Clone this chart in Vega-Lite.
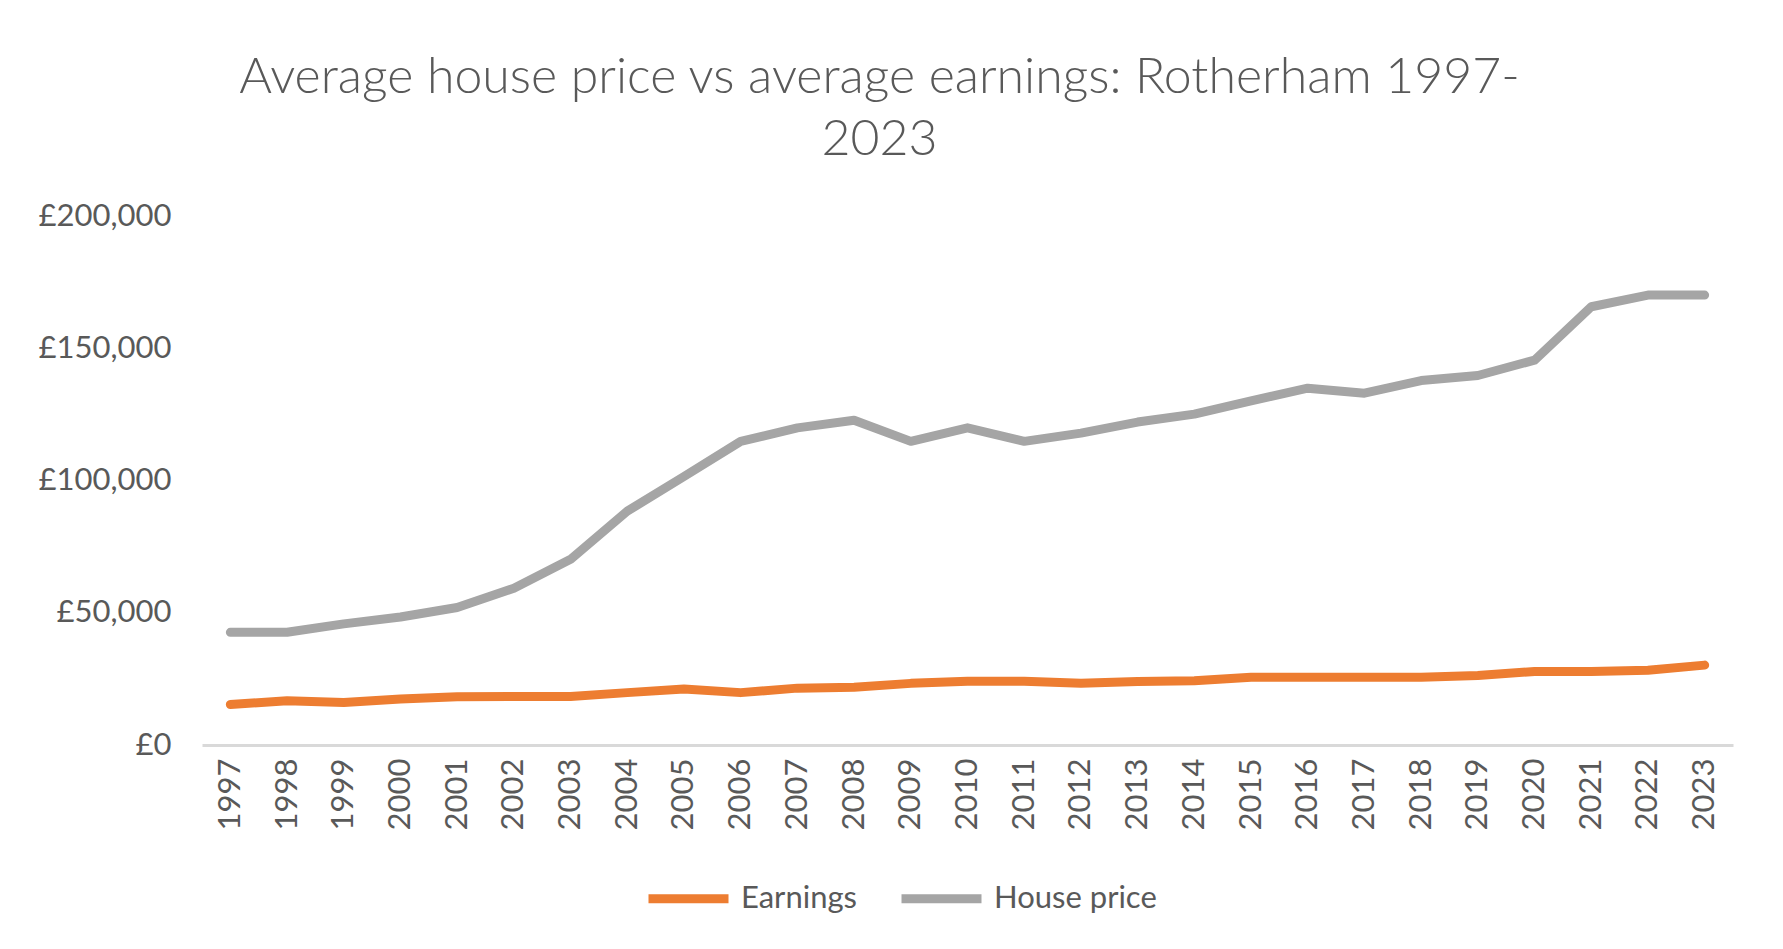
{
  "$schema": "https://vega.github.io/schema/vega-lite/v6.json",
  "width": 1531,
  "height": 529,
  "autosize": {"type": "none"},
  "padding": {"left": 202, "top": 216, "right": 50, "bottom": 204},
  "background": "white",
  "title": {
    "text": ["Average house price vs average earnings: Rotherham 1997-", "2023"],
    "font": "Lato",
    "fontWeight": 300,
    "fontSize": 50,
    "color": "#595959",
    "lineHeight": 62,
    "anchor": "middle",
    "offset": 35,
    "dx": -88
  },
  "data": {
    "values": [
      {"year": "1997", "series": "Earnings", "value": 15300},
      {"year": "1998", "series": "Earnings", "value": 16700},
      {"year": "1999", "series": "Earnings", "value": 16100},
      {"year": "2000", "series": "Earnings", "value": 17400},
      {"year": "2001", "series": "Earnings", "value": 18200},
      {"year": "2002", "series": "Earnings", "value": 18300},
      {"year": "2003", "series": "Earnings", "value": 18300},
      {"year": "2004", "series": "Earnings", "value": 19800},
      {"year": "2005", "series": "Earnings", "value": 21200},
      {"year": "2006", "series": "Earnings", "value": 19800},
      {"year": "2007", "series": "Earnings", "value": 21500},
      {"year": "2008", "series": "Earnings", "value": 21800},
      {"year": "2009", "series": "Earnings", "value": 23300},
      {"year": "2010", "series": "Earnings", "value": 24100},
      {"year": "2011", "series": "Earnings", "value": 24100},
      {"year": "2012", "series": "Earnings", "value": 23300},
      {"year": "2013", "series": "Earnings", "value": 24000},
      {"year": "2014", "series": "Earnings", "value": 24300},
      {"year": "2015", "series": "Earnings", "value": 25600},
      {"year": "2016", "series": "Earnings", "value": 25600},
      {"year": "2017", "series": "Earnings", "value": 25600},
      {"year": "2018", "series": "Earnings", "value": 25600},
      {"year": "2019", "series": "Earnings", "value": 26300},
      {"year": "2020", "series": "Earnings", "value": 27800},
      {"year": "2021", "series": "Earnings", "value": 27800},
      {"year": "2022", "series": "Earnings", "value": 28300},
      {"year": "2023", "series": "Earnings", "value": 30200},
      {"year": "1997", "series": "House price", "value": 42600},
      {"year": "1998", "series": "House price", "value": 42600},
      {"year": "1999", "series": "House price", "value": 45800},
      {"year": "2000", "series": "House price", "value": 48400},
      {"year": "2001", "series": "House price", "value": 52000},
      {"year": "2002", "series": "House price", "value": 59300},
      {"year": "2003", "series": "House price", "value": 70200},
      {"year": "2004", "series": "House price", "value": 88400},
      {"year": "2005", "series": "House price", "value": 101500},
      {"year": "2006", "series": "House price", "value": 114800},
      {"year": "2007", "series": "House price", "value": 119900},
      {"year": "2008", "series": "House price", "value": 122800},
      {"year": "2009", "series": "House price", "value": 114800},
      {"year": "2010", "series": "House price", "value": 119900},
      {"year": "2011", "series": "House price", "value": 114800},
      {"year": "2012", "series": "House price", "value": 117900},
      {"year": "2013", "series": "House price", "value": 122100},
      {"year": "2014", "series": "House price", "value": 125100},
      {"year": "2015", "series": "House price", "value": 130100},
      {"year": "2016", "series": "House price", "value": 134900},
      {"year": "2017", "series": "House price", "value": 133000},
      {"year": "2018", "series": "House price", "value": 137800},
      {"year": "2019", "series": "House price", "value": 139700},
      {"year": "2020", "series": "House price", "value": 145500},
      {"year": "2021", "series": "House price", "value": 165700},
      {"year": "2022", "series": "House price", "value": 170100},
      {"year": "2023", "series": "House price", "value": 170100}
    ]
  },
  "mark": {"type": "line", "strokeWidth": 9, "strokeCap": "round", "strokeJoin": "round"},
  "encoding": {
    "x": {
      "field": "year",
      "type": "ordinal",
      "scale": {"padding": 0.5},
      "axis": {
        "title": null,
        "labelAngle": -90,
        "labelFont": "Lato",
        "labelFontSize": 31,
        "labelColor": "#595959",
        "labelPadding": 13,
        "ticks": false,
        "domainColor": "#D9D9D9",
        "domainWidth": 3,
        "grid": false
      }
    },
    "y": {
      "field": "value",
      "type": "quantitative",
      "scale": {"domain": [0, 200000], "nice": false},
      "axis": {
        "title": null,
        "values": [0, 50000, 100000, 150000, 200000],
        "labelExpr": "'£' + format(datum.value, ',')",
        "labelFont": "Lato",
        "labelFontSize": 31,
        "labelColor": "#595959",
        "labelPadding": 31,
        "ticks": false,
        "domain": false,
        "grid": false
      }
    },
    "color": {
      "field": "series",
      "type": "nominal",
      "scale": {"domain": ["Earnings", "House price"], "range": ["#ED7D31", "#A5A5A5"]},
      "legend": {
        "title": null,
        "orient": "none",
        "direction": "horizontal",
        "legendX": 442,
        "legendY": 638,
        "symbolType": "stroke",
        "symbolSize": 6400,
        "symbolStrokeWidth": 9,
        "labelFont": "Lato",
        "labelFontSize": 31,
        "labelColor": "#595959",
        "labelOffset": 8,
        "labelLimit": 0,
        "columnPadding": 26
      }
    }
  },
  "config": {
    "view": {"stroke": null}
  }
}
